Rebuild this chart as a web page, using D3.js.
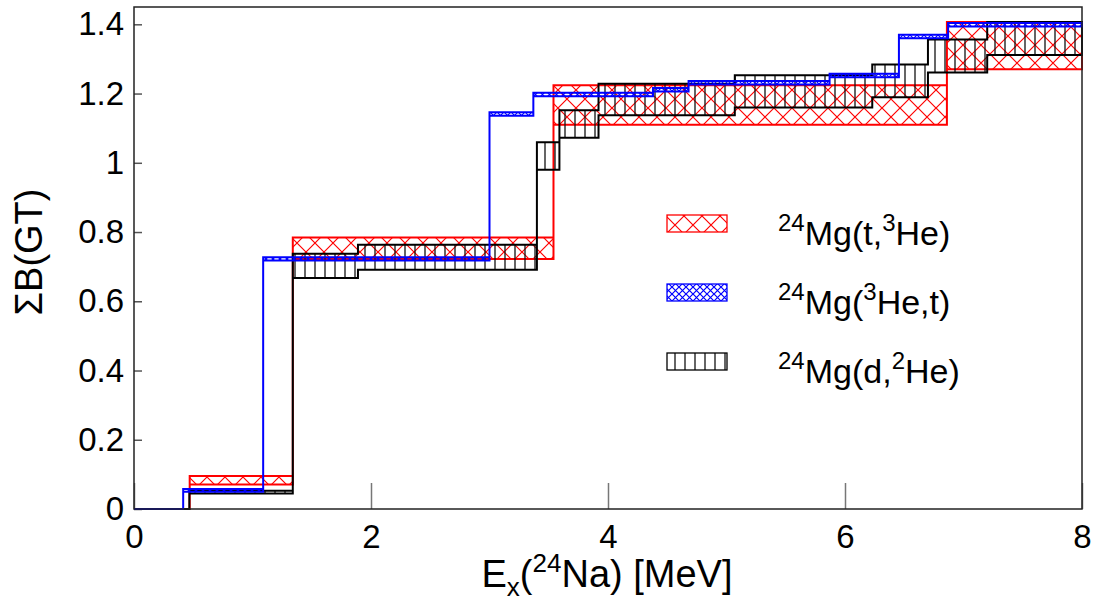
<!DOCTYPE html>
<html><head><meta charset="utf-8">
<script src="https://cdn.jsdelivr.net/npm/d3@7"></script>
<style>body{margin:0;background:#fff}svg{display:block}</style>
</head><body><svg id="c" width="1101" height="601"></svg>
<script>
// ---- data: step bands (edges in MeV, lower/upper cumulative B(GT)) ----
const redEdges  = [0, 0.47, 1.34, 3.54, 6.86, 8];
const redLower  = [0, 0.071, 0.722, 1.110, 1.270];
const redUpper  = [0, 0.095, 0.784, 1.224, 1.407];

const blueEdges = [0, 0.415, 1.09, 3.0, 3.37, 4.38, 4.68, 5.87, 6.455, 6.87, 8];
const blueLower = [0, 0.050, 0.718, 1.136, 1.192, 1.206, 1.226, 1.247, 1.360, 1.394];
const blueUpper = [0, 0.058, 0.727, 1.146, 1.202, 1.216, 1.236, 1.257, 1.370, 1.404];

const blackEdges = [0, 0.467, 1.34, 1.89, 3.40, 3.59, 3.92, 5.07, 6.23, 6.70, 7.20, 8];
const blackLower = [0, 0.045, 0.667, 0.691, 0.980, 1.072, 1.137, 1.160, 1.189, 1.261, 1.311];
const blackUpper = [0, 0.053, 0.737, 0.763, 1.059, 1.152, 1.228, 1.253, 1.284, 1.356, 1.407];

const xTicks = [0, 2, 4, 6, 8];
const yTicks = [0, 0.2, 0.4, 0.6, 0.8, 1.0, 1.2, 1.4];

const legendLabels = [
  [["24", true], ["Mg(t,", false], ["3", true], ["He)", false]],
  [["24", true], ["Mg(", false], ["3", true], ["He,t)", false]],
  [["24", true], ["Mg(d,", false], ["2", true], ["He)", false]]
];

// ---- chart ----
const FONT = "'Liberation Sans', Arial, Helvetica, sans-serif";
const svg = d3.select("#c").style("font-family", FONT);
const x = d3.scaleLinear().domain([0, 8]).range([134, 1082]);
const y = d3.scaleLinear().domain([0, 1.45]).range([509, 7]);

const defs = svg.append("defs");
function crossPattern(id, size, color) {
  defs.append("pattern").attr("id", id).attr("patternUnits", "userSpaceOnUse")
    .attr("width", size).attr("height", size)
    .append("path").attr("d", `M0,0L${size},${size}M${size},0L0,${size}`)
    .attr("stroke", color).attr("stroke-width", 1.2).attr("fill", "none");
}
crossPattern("hRed", 18, "#ff0000");
crossPattern("hBlue", 7, "#0000ff");
defs.append("pattern").attr("id", "hBlack").attr("patternUnits", "userSpaceOnUse")
  .attr("width", 10).attr("height", 10)
  .append("path").attr("d", "M5,0V10").attr("stroke", "#111").attr("stroke-width", 1.3);

const series = [
  {edges: redEdges, lower: redLower, upper: redUpper, color: "#ff0000", pat: "hRed"},
  {edges: blackEdges, lower: blackLower, upper: blackUpper, color: "#000000", pat: "hBlack"},
  {edges: blueEdges, lower: blueLower, upper: blueUpper, color: "#0000ff", pat: "hBlue"}
];

function bandPoints(s) {
  const pts = [];
  for (let i = 0; i < s.upper.length; i++) {
    pts.push([s.edges[i], s.upper[i]], [s.edges[i + 1], s.upper[i]]);
  }
  for (let i = s.lower.length - 1; i >= 0; i--) {
    pts.push([s.edges[i + 1], s.lower[i]], [s.edges[i], s.lower[i]]);
  }
  return pts;
}
const line = d3.line().x(d => x(d[0])).y(d => y(d[1]));

// axes ticks (inner)
const gx = svg.append("g").attr("transform", "translate(0,509)")
  .call(d3.axisBottom(x).tickValues(xTicks).tickSize(-26).tickPadding(16).tickFormat(d3.format("d")));
gx.select(".domain").remove();
gx.selectAll("line").attr("stroke", "#777").attr("stroke-width", 1.5);
gx.selectAll("text").attr("font-size", 33).attr("fill", "#000").attr("font-family", FONT);

const gy = svg.append("g").attr("transform", "translate(134,0)")
  .call(d3.axisLeft(y).tickValues(yTicks).tickSize(-8).tickPadding(10)
    .tickFormat(d => (d === 0 ? "0" : d === 1 ? "1" : d3.format(".1f")(d))));
gy.select(".domain").remove();
gy.selectAll("line").attr("stroke", "#555").attr("stroke-width", 1.5);
gy.selectAll("text").attr("font-size", 33).attr("fill", "#000").attr("font-family", FONT);

// bands
svg.append("g").selectAll("path").data(series).join("path")
  .attr("d", s => line(bandPoints(s)) + "Z")
  .attr("fill", s => `url(#${s.pat})`)
  .attr("stroke", s => s.color)
  .attr("stroke-width", 2)
  .attr("stroke-linejoin", "miter");

// frame
svg.append("rect").attr("x", x(0)).attr("y", y(1.45)).attr("width", x(8) - x(0)).attr("height", y(0) - y(1.45))
  .attr("fill", "none").attr("stroke", "#222").attr("stroke-width", 1.5);

// axis titles
const xt = svg.append("text").attr("x", 607).attr("y", 587).attr("text-anchor", "middle")
  .attr("font-size", 38).attr("fill", "#000");
xt.append("tspan").text("E");
xt.append("tspan").attr("font-size", 26).attr("dy", 9).text("x");
xt.append("tspan").attr("dy", -9).text("(");
xt.append("tspan").attr("font-size", 26).attr("dy", -15).text("24");
xt.append("tspan").attr("dy", 15).text("Na) [MeV]");

svg.append("text").attr("transform", "translate(42,252) rotate(-90)")
  .attr("text-anchor", "middle").attr("font-size", 38).attr("fill", "#000").text("ΣB(GT)");

// legend
const legOrder = [
  {pat: "hRed", color: "#ff0000"},
  {pat: "hBlue", color: "#0000ff"},
  {pat: "hBlack", color: "#000"}
];
legOrder.forEach((l, i) => {
  const cy = 223.5 + i * 69;
  svg.append("rect").attr("x", 667).attr("y", cy - 8.5).attr("width", 60).attr("height", 17)
    .attr("fill", `url(#${l.pat})`).attr("stroke", l.color).attr("stroke-width", 1.3);
  const t = svg.append("text").attr("x", 778).attr("y", cy + 21.5).attr("font-size", 34).attr("fill", "#000");
  let up = false;
  legendLabels[i].forEach(([s, sup]) => {
    const ts = t.append("tspan").text(s);
    if (sup) { ts.attr("font-size", 24).attr("dy", up ? 0 : -14); up = true; }
    else { ts.attr("dy", up ? 14 : 0); up = false; }
  });
});
</script>
</body></html>
